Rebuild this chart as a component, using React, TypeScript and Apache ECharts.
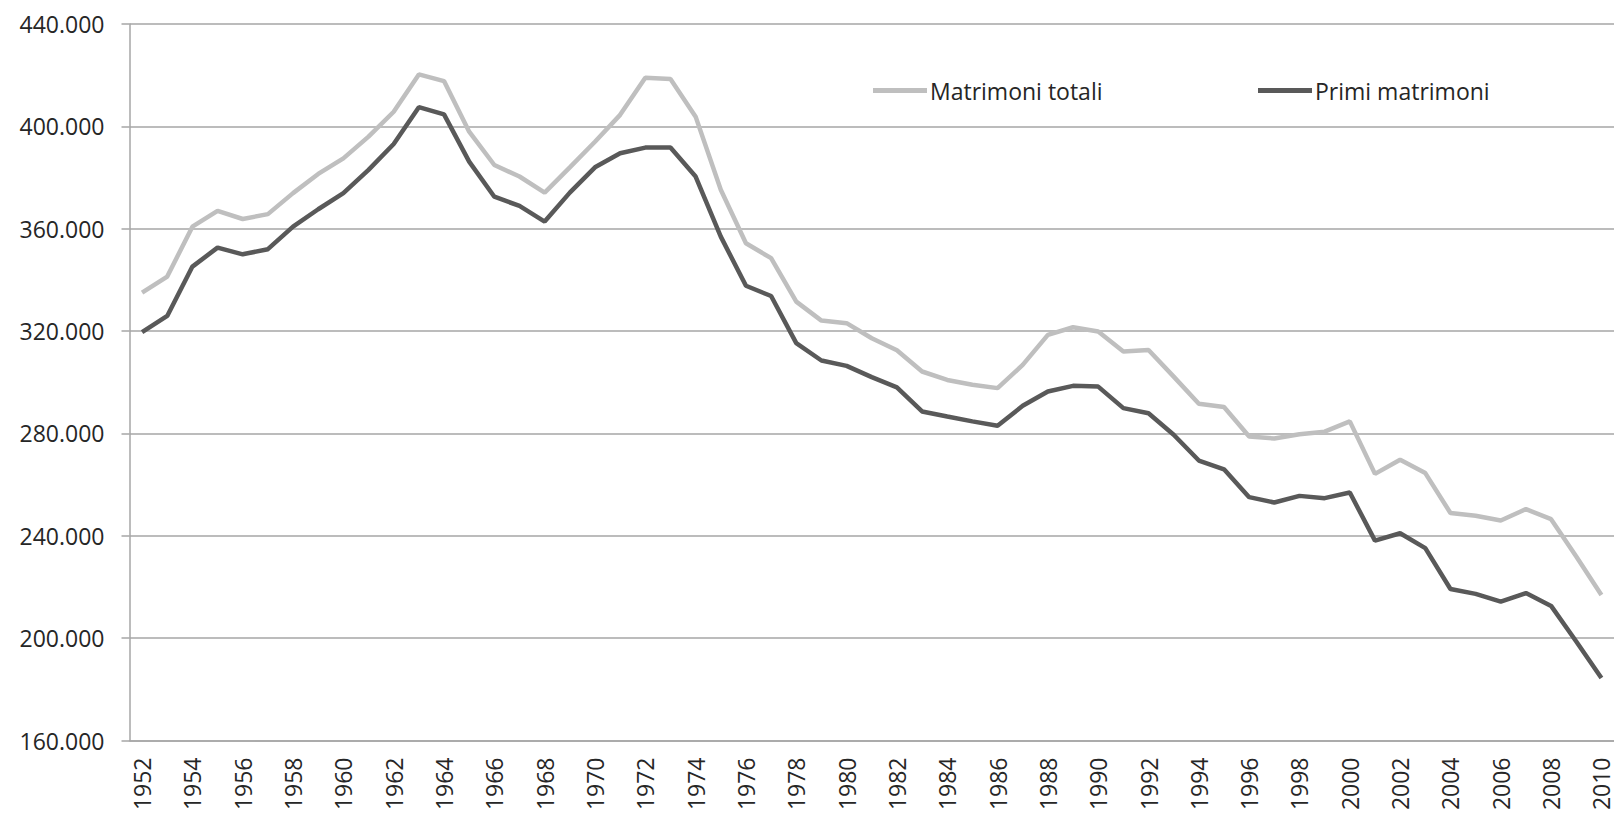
import React, { useEffect, useRef } from "react";
import * as echarts from "echarts";

const years = [
  "1952","1953","1954","1955","1956","1957","1958","1959","1960","1961",
  "1962","1963","1964","1965","1966","1967","1968","1969","1970","1971",
  "1972","1973","1974","1975","1976","1977","1978","1979","1980","1981",
  "1982","1983","1984","1985","1986","1987","1988","1989","1990","1991",
  "1992","1993","1994","1995","1996","1997","1998","1999","2000","2001",
  "2002","2003","2004","2005","2006","2007","2008","2009","2010",
];

const matrimoniTotali = [
  335000, 341300, 360800, 367000, 363800, 365700, 373900, 381400, 387500, 396000,
  405700, 420300, 417700, 397900, 384900, 380400, 374100, 384000, 394000, 404500,
  419000, 418500, 403800, 375200, 354300, 348500, 331500, 324100, 323100, 317200,
  312500, 304200, 300900, 299000, 297700, 306800, 318500, 321500, 319800, 312000,
  312600, 302200, 291600, 290300, 278800, 278000, 279700, 280700, 284700, 264200,
  269700, 264500, 248900, 247800, 246000, 250400, 246500, 231900, 216900,
];

const primiMatrimoni = [
  319600, 325900, 345200, 352600, 350000, 352000, 360800, 367600, 373900, 383000,
  393100, 407500, 404700, 386200, 372500, 368900, 362800, 374100, 384000, 389500,
  391700, 391700, 380400, 356900, 337700, 333700, 315300, 308500, 306400, 302000,
  298000, 288600, 286600, 284700, 283000, 290800, 296400, 298600, 298300, 289900,
  287900, 279500, 269400, 266000, 255100, 253000, 255600, 254700, 256900, 238100,
  241000, 235200, 219200, 217300, 214300, 217600, 212600, 198700, 184400,
];

const seriesNames = ["Matrimoni totali", "Primi matrimoni"];

const FONT = "Open Sans";
const GRID_COLOR = "#a6a6a6";
const TEXT_COLOR = "#262626";

export default function App() {
  const ref = useRef<HTMLDivElement>(null);

  useEffect(() => {
    if (!ref.current) return;
    const chart = echarts.init(ref.current, undefined, { renderer: "svg" });
    const legendCommon = {
      orient: "horizontal",
      top: 74,
      icon: "rect",
      itemWidth: 54,
      itemHeight: 5,
      itemGap: 4,
      textStyle: { fontFamily: FONT, fontSize: 23, color: TEXT_COLOR, padding: [0, 0, 0, -2] },
    };
    chart.setOption({
      animation: false,
      backgroundColor: "#ffffff",
      grid: { left: 129.5, top: 24, width: 1487, height: 716.5, containLabel: false },
      legend: [
        { ...legendCommon, left: 868, data: [seriesNames[0]] },
        { ...legendCommon, left: 1253, data: [seriesNames[1]] },
      ],
      xAxis: {
        type: "category",
        data: years,
        boundaryGap: true,
        axisLine: { show: true, lineStyle: { color: GRID_COLOR, width: 1.5 } },
        axisTick: { show: false },
        axisLabel: {
          interval: 1,
          rotate: 90,
          margin: 17,
          fontFamily: FONT,
          fontSize: 23,
          color: TEXT_COLOR,
        },
        splitLine: { show: false },
      },
      yAxis: {
        type: "value",
        min: 160000,
        max: 440000,
        interval: 40000,
        axisLine: { show: true, lineStyle: { color: GRID_COLOR, width: 1.5 } },
        axisTick: { show: true, length: 8, lineStyle: { color: GRID_COLOR, width: 1.5 } },
        axisLabel: {
          margin: 25,
          fontFamily: FONT,
          fontSize: 23,
          color: TEXT_COLOR,
          formatter: (v: number) => `${Math.round(v / 1000)}.000`,
        },
        splitLine: { show: true, lineStyle: { color: GRID_COLOR, width: 1.5 } },
      },
      series: [
        {
          name: seriesNames[0],
          type: "line",
          data: matrimoniTotali,
          symbol: "none",
          color: "#bfbfbf",
          lineStyle: { color: "#bfbfbf", width: 4.5 },
        },
        {
          name: seriesNames[1],
          type: "line",
          data: primiMatrimoni,
          symbol: "none",
          color: "#595959",
          lineStyle: { color: "#595959", width: 4.5 },
        },
      ],
    });
    return () => chart.dispose();
  }, []);

  return (
    <div
      ref={ref}
      style={{ position: "absolute", left: 0, top: 0, width: 1614, height: 814, background: "#fff" }}
    />
  );
}
